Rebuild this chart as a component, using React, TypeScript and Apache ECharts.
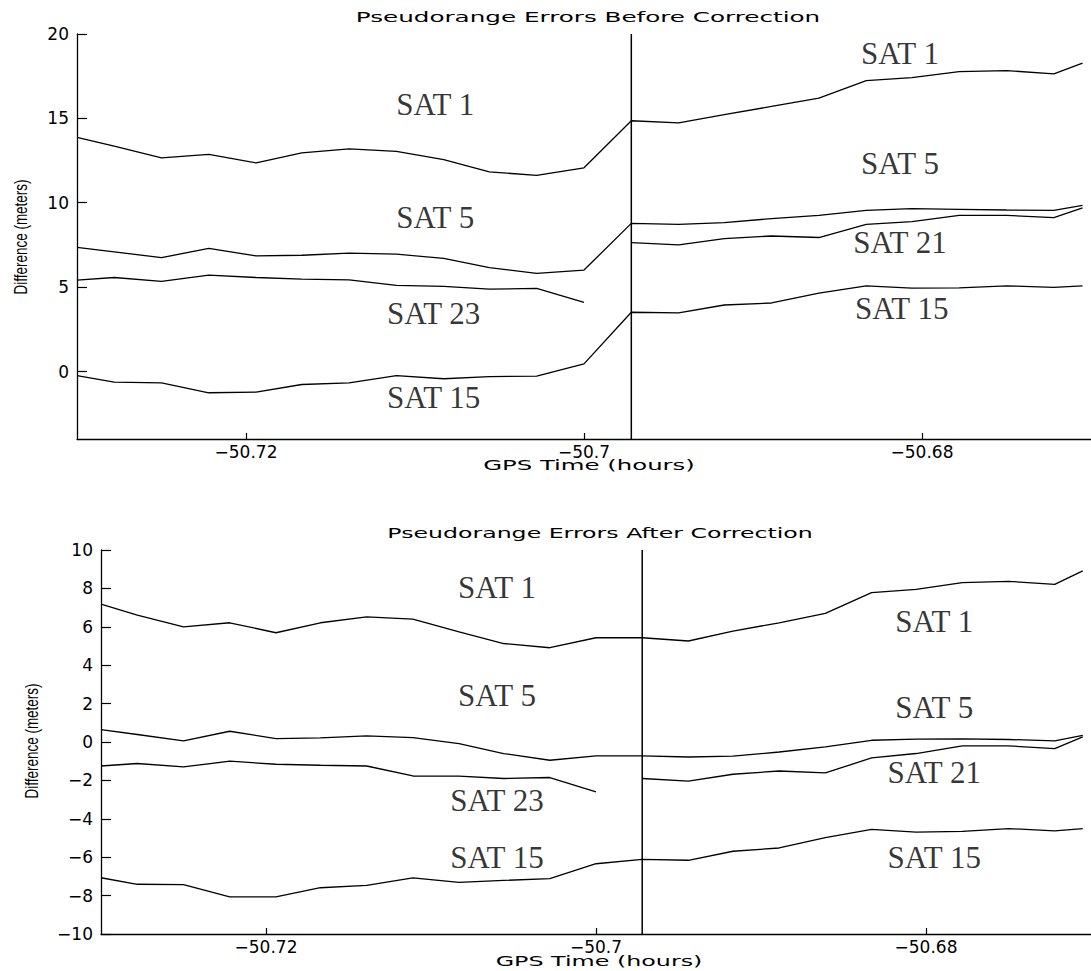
import React, { useEffect, useRef } from "react";
import * as echarts from "echarts";

// GPS time samples (hours), every 10 s
const times = [
  -50.73, -50.7278, -50.725, -50.7222, -50.7194, -50.7167, -50.7139, -50.7111,
  -50.7083, -50.7056, -50.7028, -50.7, -50.6972, -50.6944, -50.6917, -50.6889,
  -50.6861, -50.6833, -50.6806, -50.6778, -50.675, -50.6722, -50.6705,
];

// Before correction (meters)
const sat1Before = [13.88, 13.35, 12.66, 12.87, 12.36, 12.95, 13.19, 13.05, 12.56, 11.83, 11.62, 12.07, 14.86, 14.73, 15.22, 15.71, 16.2, 17.24, 17.42, 17.77, 17.83, 17.64, 18.27];
const sat5Before = [7.35, 7.09, 6.75, 7.29, 6.85, 6.89, 7.01, 6.95, 6.7, 6.16, 5.81, 6.01, 8.78, 8.72, 8.82, 9.06, 9.25, 9.55, 9.65, 9.61, 9.57, 9.55, 9.85];
const sat23Before = [5.41, 5.57, 5.34, 5.71, 5.57, 5.47, 5.43, 5.1, 5.04, 4.88, 4.92, 4.1, null, null, null, null, null, null, null, null, null, null, null];
const sat21Before = [null, null, null, null, null, null, null, null, null, null, null, null, 7.64, 7.5, 7.88, 8.03, 7.94, 8.72, 8.88, 9.25, 9.25, 9.12, 9.7];
const sat15Before = [-0.24, -0.63, -0.67, -1.26, -1.22, -0.77, -0.67, -0.24, -0.43, -0.3, -0.27, 0.45, 3.51, 3.47, 3.94, 4.06, 4.65, 5.08, 4.94, 4.96, 5.08, 4.98, 5.08];

// After correction (meters)
const sat1After = [7.18, 6.61, 6.0, 6.21, 5.69, 6.21, 6.52, 6.4, 5.74, 5.13, 4.91, 5.43, 5.43, 5.26, 5.78, 6.21, 6.7, 7.78, 7.95, 8.3, 8.37, 8.21, 8.91];
const sat5After = [0.65, 0.39, 0.06, 0.56, 0.18, 0.21, 0.32, 0.23, -0.08, -0.6, -0.95, -0.72, -0.72, -0.78, -0.74, -0.52, -0.25, 0.09, 0.15, 0.16, 0.13, 0.06, 0.35];
const sat23After = [-1.25, -1.12, -1.3, -1.0, -1.16, -1.21, -1.25, -1.77, -1.78, -1.9, -1.85, -2.6, null, null, null, null, null, null, null, null, null, null, null];
const sat21After = [null, null, null, null, null, null, null, null, null, null, null, null, -1.9, -2.04, -1.68, -1.51, -1.61, -0.83, -0.6, -0.2, -0.2, -0.34, 0.27];
const sat15After = [-7.07, -7.41, -7.43, -8.07, -8.07, -7.59, -7.47, -7.08, -7.31, -7.21, -7.12, -6.34, -6.11, -6.16, -5.69, -5.52, -4.98, -4.55, -4.69, -4.65, -4.51, -4.63, -4.51];

// Time at which the correction starts (vertical marker)
const correctionTime = -50.6972;

// Axis ranges
const xRange = [-50.73, -50.67];
const yRangeBefore = [-4, 20];
const yRangeAfter = [-10, 10];

// Tick labels
const xTickValues = [-50.72, -50.7, -50.68];
const yTicksBefore = [0, 5, 10, 15, 20];
const yTicksAfter = [-10, -8, -6, -4, -2, 0, 2, 4, 6, 8, 10];

// Satellite annotations (data coordinates)
const labelTexts = ["SAT 1", "SAT 5", "SAT 23", "SAT 15", "SAT 1", "SAT 5", "SAT 21", "SAT 15"];
const beforeLabelTimes = [-50.7088, -50.7088, -50.7089, -50.7089, -50.6813, -50.6813, -50.6813, -50.6812];
const beforeLabelValues = [15.85, 9.1, 3.41, -1.57, 18.87, 12.3, 7.67, 3.76];
const afterLabelTimes = [-50.706, -50.706, -50.706, -50.706, -50.6795, -50.6795, -50.6795, -50.6795];
const afterLabelValues = [8.07, 2.4, -3.07, -5.99, 6.3, 1.82, -1.61, -5.99];

const fmt = (v: number) => (v < 0 ? "\u2212" + String(Math.abs(v)) : String(v));

function makeXAxis(gridIndex: number) {
  return {
    type: "value",
    gridIndex,
    min: xRange[0],
    max: xRange[1],
    axisLine: { show: true, onZero: false, lineStyle: { color: "#000", width: 1.3 } },
    axisTick: {
      show: true,
      inside: true,
      length: 6,
      customValues: xTickValues,
      lineStyle: { color: "#000", width: 1.2 },
    },
    axisLabel: {
      customValues: xTickValues,
      formatter: fmt,
      color: "#000",
      fontFamily: "DejaVu Sans",
      fontSize: 17,
      margin: 4,
    },
    splitLine: { show: false },
  };
}

function makeYAxis(gridIndex: number, range: number[], ticks: number[]) {
  return {
    type: "value",
    gridIndex,
    min: range[0],
    max: range[1],
    axisLine: { show: true, onZero: false, lineStyle: { color: "#000", width: 1.3 } },
    axisTick: {
      show: true,
      inside: true,
      length: 10,
      customValues: ticks,
      lineStyle: { color: "#000", width: 1.2 },
    },
    axisLabel: {
      customValues: ticks,
      formatter: fmt,
      color: "#000",
      fontFamily: "DejaVu Sans",
      fontSize: 17,
      margin: 8,
    },
    splitLine: { show: false },
  };
}

function makeLine(name: string, vals: (number | null)[], gi: number) {
  return {
    type: "line",
    name,
    xAxisIndex: gi,
    yAxisIndex: gi,
    data: times.map((t, i) => [t, vals[i] === null ? "-" : vals[i]]),
    symbol: "none",
    showSymbol: false,
    connectNulls: false,
    lineStyle: { color: "#000", width: 1.3 },
    itemStyle: { color: "#000" },
    silent: true,
  };
}

function makeMarker(gi: number, range: number[]) {
  return {
    type: "line",
    name: "correction",
    xAxisIndex: gi,
    yAxisIndex: gi,
    data: [
      [correctionTime, range[0]],
      [correctionTime, range[1]],
    ],
    symbol: "none",
    showSymbol: false,
    lineStyle: { color: "#000", width: 1.5 },
    itemStyle: { color: "#000" },
    silent: true,
  };
}

function makeLabels(gi: number, ts: number[], vs: number[]) {
  return {
    type: "scatter",
    xAxisIndex: gi,
    yAxisIndex: gi,
    data: ts.map((t, i) => [t, vs[i]]),
    symbolSize: 1,
    itemStyle: { color: "transparent" },
    silent: true,
    label: {
      show: true,
      position: "inside",
      formatter: (p: any) => labelTexts[p.dataIndex],
      color: "#000",
      fontFamily: "Liberation Serif",
      fontSize: 31,
      textBorderWidth: 0,
    },
  };
}

export default function App() {
  const ref = useRef<HTMLDivElement>(null);
  useEffect(() => {
    if (!ref.current) return;
    const chart = echarts.init(ref.current, undefined, { renderer: "svg" });
    const sansText = (text: string, x: number, y: number, scaleX: number) => ({
      type: "text",
      x,
      y,
      scaleX,
      silent: true,
      style: {
        text,
        fontFamily: "DejaVu Sans",
        fontSize: 14,
        fill: "#000",
        align: "center",
        verticalAlign: "middle",
      },
    });
    const yName = (x: number, y: number) => ({
      type: "text",
      x,
      y,
      rotation: Math.PI / 2,
      scaleX: 0.75,
      silent: true,
      style: {
        text: "Difference (meters)",
        fontFamily: "Liberation Sans",
        fontSize: 18,
        fill: "#000",
        align: "center",
        verticalAlign: "middle",
      },
    });
    chart.setOption({
      animation: false,
      backgroundColor: "#fff",
      grid: [
        { left: 77, top: 34, width: 1022, height: 405 },
        { left: 101, top: 550, width: 996, height: 384 },
      ],
      xAxis: [makeXAxis(0), makeXAxis(1)],
      yAxis: [makeYAxis(0, yRangeBefore, yTicksBefore), makeYAxis(1, yRangeAfter, yTicksAfter)],
      series: [
        makeMarker(0, yRangeBefore),
        makeLine("SAT 1", sat1Before, 0),
        makeLine("SAT 5", sat5Before, 0),
        makeLine("SAT 23", sat23Before, 0),
        makeLine("SAT 21", sat21Before, 0),
        makeLine("SAT 15", sat15Before, 0),
        makeLabels(0, beforeLabelTimes, beforeLabelValues),
        makeMarker(1, yRangeAfter),
        makeLine("SAT 1", sat1After, 1),
        makeLine("SAT 5", sat5After, 1),
        makeLine("SAT 23", sat23After, 1),
        makeLine("SAT 21", sat21After, 1),
        makeLine("SAT 15", sat15After, 1),
        makeLabels(1, afterLabelTimes, afterLabelValues),
      ],
      graphic: [
        sansText("Pseudorange Errors Before Correction", 588, 17, 1.76),
        sansText("GPS Time (hours)", 589, 465, 1.74),
        sansText("Pseudorange Errors After Correction", 600, 533, 1.69),
        sansText("GPS Time (hours)", 599, 961, 1.7),
        yName(21, 237),
        yName(32, 741),
      ],
    });
    return () => chart.dispose();
  }, []);
  return (
    <div
      ref={ref}
      style={{ position: "absolute", left: 0, top: 0, width: 1091, height: 971, background: "#fff" }}
    />
  );
}
